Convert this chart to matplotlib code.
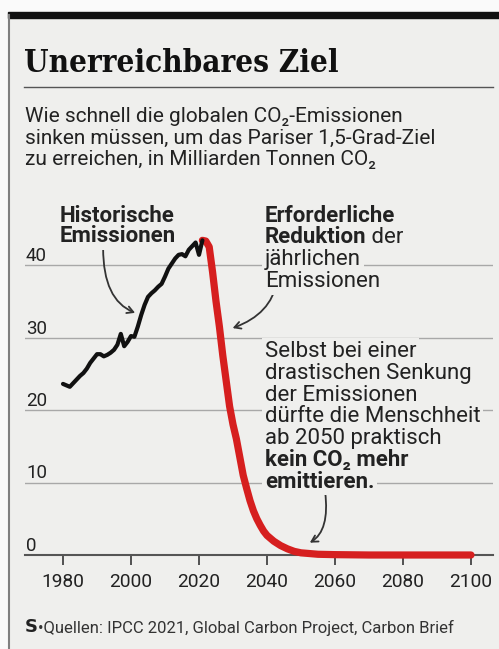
import matplotlib
matplotlib.use('Agg')
import matplotlib.pyplot as plt
from matplotlib.lines import Line2D
from matplotlib.patches import Rectangle
from matplotlib.transforms import offset_copy

W, H = 499, 649
BG = '#efefed'
FONT = ['Roboto', 'DejaVu Sans']
TXT = '#222222'
RED = '#d61f1f'

# historische Emissionen (Mrd. t CO2)
hist_years = list(range(1980, 2022))
hist_values = [23.6, 23.4, 23.2, 23.7, 24.2, 24.7, 25.1, 25.7, 26.5, 27.1,
               27.7, 27.7, 27.4, 27.6, 27.9, 28.3, 29.0, 30.5, 28.8, 29.4,
               30.2, 30.1, 31.5, 33.1, 34.5, 35.6, 36.1, 36.5, 37.0, 37.4,
               38.4, 39.5, 40.2, 40.9, 41.4, 41.5, 41.2, 42.1, 42.6, 43.1,
               41.4, 43.4]

# 1,5-Grad-Pfad
path_years = [2021, 2022, 2023, 2024, 2025, 2026, 2027, 2028, 2029, 2030,
              2031, 2032, 2033, 2034, 2035, 2036, 2037, 2038, 2039, 2040,
              2042, 2044, 2046, 2048, 2050, 2055, 2060, 2070, 2080, 2090, 2100]
path_values = [43.4, 43.3, 42.5, 39.0, 35.0, 31.5, 27.5, 24.0, 20.5, 18.0,
               16.0, 13.5, 11.0, 9.2, 7.5, 6.1, 5.0, 4.1, 3.3, 2.7,
               1.9, 1.3, 0.85, 0.5, 0.3, 0.1, 0.05, 0.0, 0.0, 0.0, 0.0]

x_ticks = [1980, 2000, 2020, 2040, 2060, 2080, 2100]
y_ticks = [0, 10, 20, 30, 40]


def fx(px):
    return px / W


def fy(py):
    return 1 - py / H


fig = plt.figure(figsize=(W / 100, H / 100), dpi=100, facecolor='#fafafa')
fig.add_artist(Rectangle((fx(9), 0), 1 - fx(9), fy(15), transform=fig.transFigure,
                         color=BG, zorder=-5))
fig.add_artist(Rectangle((fx(8), fy(18)), 1 - fx(8), fy(12) - fy(18),
                         transform=fig.transFigure, color='#111111'))
fig.add_artist(Line2D([fx(9), fx(9)], [fy(15), 0], transform=fig.transFigure,
                      color='#808080', lw=1.5))

# Titel
fig.text(fx(24), fy(72), 'Unerreichbares Ziel', fontsize=22.5, fontweight='bold',
         family=['DejaVu Serif'], fontstretch='condensed', color='#111111',
         va='baseline')
fig.add_artist(Line2D([fx(24), fx(493)], [fy(87), fy(87)], transform=fig.transFigure,
                      color='#555555', lw=1))
sub = ['Wie schnell die globalen CO₂-Emissionen',
       'sinken müssen, um das Pariser 1,5-Grad-Ziel',
       'zu erreichen, in Milliarden Tonnen CO₂']
for i, s in enumerate(sub):
    fig.text(fx(25), fy(122 + i * 21.5), s, fontsize=15, family=FONT,
             color=TXT, va='baseline')

# Diagramm
ax = fig.add_axes([fx(25), fy(555), fx(493) - fx(25), fy(195) - fy(555)])
ax.set_facecolor('none')
ax.set_xlim(1980 - 38 / 3.4, 2100 + 22 / 3.4)
ax.set_ylim(0, (555 - 195) / 7.25)
for s in ['top', 'right', 'left']:
    ax.spines[s].set_visible(False)
ax.spines['bottom'].set_color('#555555')
ax.spines['bottom'].set_linewidth(1.5)
ax.set_axisbelow(True)
ax.grid(axis='y', color='#a8a8a8', lw=1)
ax.set_xticks(x_ticks)
ax.tick_params(axis='x', length=7, width=1.3, color='#444444', pad=6,
               labelsize=13.8, labelcolor=TXT)
for lab in ax.get_xticklabels():
    lab.set_family(FONT)
ax.set_yticks(y_ticks)
ax.tick_params(axis='y', length=0, labelleft=False)
ytr = offset_copy(ax.get_yaxis_transform(), fig=fig, x=1, y=4, units='dots')
for v in y_ticks:
    ax.text(0, v, str(v), transform=ytr, fontsize=13.5, family=FONT, color=TXT,
            ha='left', va='baseline')

ax.plot(path_years, path_values, color=RED, lw=5.2, solid_capstyle='round',
        solid_joinstyle='round', clip_on=False, zorder=3)
ax.plot(hist_years, hist_values, color='#111111', lw=3, solid_capstyle='round',
        solid_joinstyle='round', zorder=4)

# Beschriftungen: Hintergrundfeld (unterbricht Gitterlinien) und Text getrennt
renderer = fig.canvas.get_renderer()


def line(px, py, parts, size=16):
    x = fx(px)
    for s, bold in parts:
        kw = dict(fontsize=size, family=FONT, va='baseline',
                  fontweight='bold' if bold else 'normal')
        fig.text(x, fy(py), s, color='none', zorder=2.5,
                 bbox=dict(boxstyle='square,pad=0.12', fc=BG, ec='none'), **kw)
        t = fig.text(x, fy(py), s, color=TXT, zorder=3, **kw)
        x = fig.transFigure.inverted().transform(
            (t.get_window_extent(renderer).x1, 0))[0]


line(60, 222, [('Historische', True)])
line(60, 242, [('Emissionen', True)])

line(265, 222, [('Erforderliche', True)])
line(265, 243, [('Reduktion', True), (' der', False)])
line(265, 265, [('jährlichen', False)])
line(265, 287, [('Emissionen', False)])

note = ['Selbst bei einer', 'drastischen Senkung', 'der Emissionen',
        'dürfte die Menschheit', 'ab 2050 praktisch']
for i, s in enumerate(note):
    line(265, 357 + i * 21.8, [(s, False)])
line(265, 357 + 5 * 21.8, [('kein CO₂ mehr', True)])
line(265, 357 + 6 * 21.8, [('emittieren.', True)])

arrow = dict(arrowstyle='->,head_length=0.45,head_width=0.25', color='#333333',
             lw=1.3, shrinkA=0, shrinkB=0)
ax.annotate('', xy=(2001.2, 33.4), xytext=(1991.8, 42.3),
            arrowprops=dict(arrow, connectionstyle='angle3,angleA=90,angleB=-22'))
ax.annotate('', xy=(2029.9, 31.3), xytext=(2042.9, 37.7),
            arrowprops=dict(arrow, connectionstyle='angle3,angleA=-100,angleB=-160'))
ax.annotate('', xy=(2052.6, 1.7), xytext=(2057.1, 8.7),
            arrowprops=dict(arrow, connectionstyle='angle3,angleA=-83,angleB=-149'))

# Quelle
logo = fig.text(fx(25), fy(632), 'S', fontsize=13, fontweight='bold',
                family=['DejaVu Sans'], color='#222222', va='baseline')
ax.annotate('•Quellen: IPCC 2021, Global Carbon Project, Carbon Brief',
            xy=(1, 0), xycoords=logo, fontsize=12, family=FONT, color='#333333',
            va='bottom', ha='left')

fig.savefig('out.png', dpi=100, facecolor=fig.get_facecolor())
